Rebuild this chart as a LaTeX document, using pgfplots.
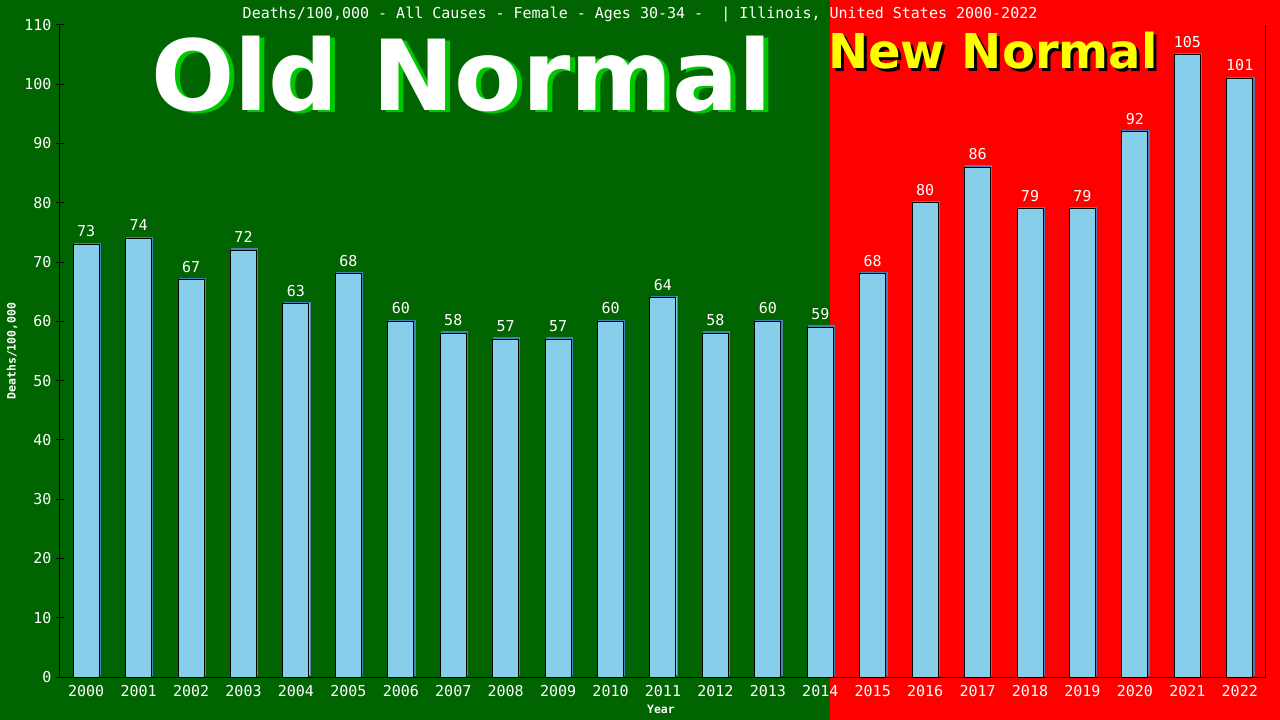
\documentclass[border=0pt]{standalone}
\usepackage{pgfplots}
\pgfplotsset{compat=1.18}
\usepackage{fontspec}
\setmainfont{DejaVu Sans}
\newfontfamily\mono{DejaVu Sans Mono}
\newfontfamily\bannerfont{DejaVu Sans}

\definecolor{bggreen}{RGB}{0,100,0}
\definecolor{bgred}{RGB}{255,0,0}
\definecolor{barfill}{RGB}{135,206,235}
\definecolor{barshadow}{RGB}{70,130,180}
\definecolor{oldshadow}{RGB}{0,200,0}
\definecolor{newyellow}{RGB}{255,255,0}

\pgfplotstableread{
year deaths
2000 73
2001 74
2002 67
2003 72
2004 63
2005 68
2006 60
2007 58
2008 57
2009 57
2010 60
2011 64
2012 58
2013 60
2014 59
2015 68
2016 80
2017 86
2018 79
2019 79
2020 92
2021 105
2022 101
}\rates

\begin{document}
\begin{tikzpicture}
% background: old normal / new normal halves
\fill[bggreen] (-60bp,-43bp) rectangle (770bp,677bp);
\fill[bgred] (770bp,-43bp) rectangle (1220bp,677bp);

\begin{axis}[
  scale only axis,
  width=1206bp, height=652bp,
  xmin=1999.5, xmax=2022.5,
  ymin=0, ymax=110,
  ytick={0,10,...,110},
  xtick=data,
  axis x line*=bottom,
  axis y line*=left,
  axis line style={black, line width=1bp},
  tick align=center,
  major tick length=8bp,
  ytick style={black, line width=1bp},
  xtick style={draw=none},
  /pgf/number format/.cd, 1000 sep={}, assume math mode=true, /pgfplots/.cd,
  ticklabel style={font=\mono\fontsize{15bp}{15bp}\selectfont, text=white},
  yticklabel style={xshift=-1bp},
  xticklabel style={yshift=3bp},
  xlabel={Year},
  xlabel style={font=\mono\bfseries\fontsize{11.5bp}{12bp}\selectfont, text=white,
    at={(rel axis cs:0.4983,0)}, anchor=center, yshift=-32bp},
  ylabel={Deaths/100,000},
  ylabel style={font=\mono\bfseries\fontsize{11.5bp}{12bp}\selectfont, text=white,
    at={([xshift=-48bp]rel axis cs:0,0.5)}, anchor=center},
  clip=false,
  ybar,
  bar width=26bp,
  nodes near coords,
  every node near coord/.append style={font=\mono\fontsize{15bp}{15bp}\selectfont,
    text=white, anchor=base, yshift=7.5bp},
]
\addplot[fill=barfill, draw=black, line width=1bp,
  preaction={draw=barshadow, line width=1.2bp,
    transform canvas={xshift=1.2bp, yshift=1.2bp}}]
  table[x=year, y=deaths] {\rates};

\draw[black, line width=1bp] (rel axis cs:1,0) -- (rel axis cs:1,1);

\node[font=\mono\fontsize{15bp}{15bp}\selectfont, text=white, anchor=center]
  at (rel axis cs:0.481,1.016)
  {Deaths/100,000 - All Causes - Female - Ages 30-34 -\ \ | Illinois, United States 2000-2022};

\node[font=\bannerfont\bfseries\fontsize{98bp}{98bp}\selectfont, text=oldshadow, anchor=base]
  at ([xshift=5bp, yshift=-2bp]rel axis cs:0.3333,0.8696) {Old Normal};
\node[font=\bannerfont\bfseries\fontsize{98bp}{98bp}\selectfont, text=white, anchor=base]
  at (rel axis cs:0.3333,0.8696) {Old Normal};

\node[font=\bannerfont\bfseries\fontsize{48bp}{48bp}\selectfont, text=black, anchor=base]
  at ([xshift=3bp, yshift=-3bp]rel axis cs:0.7736,0.934) {New Normal};
\node[font=\bannerfont\bfseries\fontsize{48bp}{48bp}\selectfont, text=newyellow, anchor=base]
  at (rel axis cs:0.7736,0.934) {New Normal};
\end{axis}

\pgfresetboundingbox
\path (-60bp,-43bp) rectangle (1220bp,677bp);
\end{tikzpicture}
\end{document}
